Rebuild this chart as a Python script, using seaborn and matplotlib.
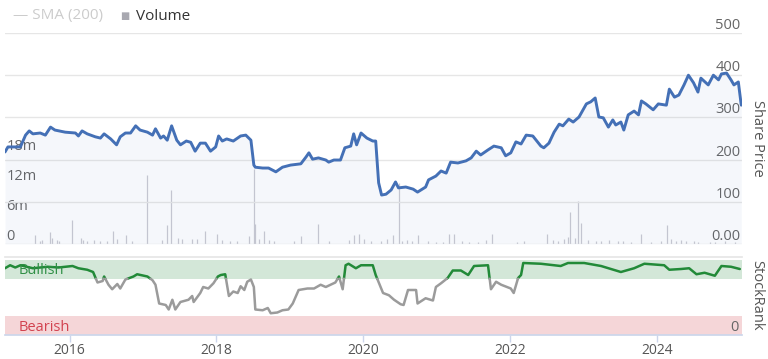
import numpy as np
import pandas as pd
import seaborn as sns
import matplotlib.pyplot as plt
import matplotlib.transforms as mtransforms

# share price (decimal year, price)
price_years = [2015.12, 2015.16, 2015.33, 2015.40, 2015.45, 2015.50, 2015.60, 2015.67,
               2015.74, 2015.80, 2015.94, 2016.08, 2016.12, 2016.17, 2016.24, 2016.35,
               2016.42, 2016.47, 2016.56, 2016.64, 2016.69, 2016.76, 2016.83, 2016.90,
               2016.96, 2017.06, 2017.13, 2017.17, 2017.24, 2017.28, 2017.33, 2017.39,
               2017.46, 2017.51, 2017.59, 2017.65, 2017.71, 2017.78, 2017.85, 2017.92,
               2017.99, 2018.03, 2018.08, 2018.14, 2018.23, 2018.33, 2018.40, 2018.47,
               2018.51, 2018.53, 2018.63, 2018.71, 2018.81, 2018.90, 2019.01, 2019.15,
               2019.22, 2019.26, 2019.31, 2019.39, 2019.49, 2019.53, 2019.60, 2019.69,
               2019.75, 2019.83, 2019.87, 2019.91, 2019.97, 2020.05, 2020.13, 2020.17,
               2020.21, 2020.25, 2020.31, 2020.38, 2020.44, 2020.48, 2020.58, 2020.68,
               2020.74, 2020.85, 2020.89, 2020.99, 2021.06, 2021.13, 2021.19, 2021.29,
               2021.40, 2021.47, 2021.54, 2021.60, 2021.70, 2021.78, 2021.88, 2021.94,
               2022.01, 2022.08, 2022.15, 2022.22, 2022.31, 2022.42, 2022.46, 2022.53,
               2022.60, 2022.67, 2022.72, 2022.80, 2022.86, 2022.94, 2023.04, 2023.10,
               2023.16, 2023.21, 2023.27, 2023.34, 2023.40, 2023.44, 2023.51, 2023.55,
               2023.61, 2023.69, 2023.75, 2023.79, 2023.85, 2023.95, 2024.02, 2024.13,
               2024.17, 2024.24, 2024.30, 2024.37, 2024.43, 2024.50, 2024.56, 2024.60,
               2024.70, 2024.77, 2024.84, 2024.88, 2024.95, 2025.01, 2025.05, 2025.11,
               2025.15]
price_values = [218, 230, 230, 258, 268, 261, 263, 258,
                277, 270, 265, 263, 256, 268, 261, 254,
                251, 261, 249, 235, 254, 263, 263, 280,
                270, 265, 258, 273, 251, 256, 246, 280,
                246, 235, 244, 241, 220, 239, 239, 220,
                230, 256, 244, 249, 244, 256, 258, 246,
                187, 182, 180, 180, 171, 182, 187, 190,
                206, 216, 201, 204, 199, 194, 199, 199,
                228, 232, 261, 235, 263, 251, 244, 244,
                145, 116, 118, 128, 147, 133, 135, 130,
                123, 135, 152, 161, 173, 168, 194, 192,
                197, 204, 220, 211, 223, 232, 228, 209,
                216, 242, 237, 258, 256, 232, 228, 239,
                265, 284, 280, 296, 289, 301, 332, 337,
                346, 301, 299, 277, 294, 282, 289, 270,
                306, 315, 306, 339, 332, 318, 332, 329,
                367, 348, 353, 377, 400, 382, 360, 393,
                377, 400, 389, 403, 405, 389, 377, 384,
                329]

# volume in millions
volume_years = [2015.53, 2015.59, 2015.62, 2015.73, 2015.76, 2015.83, 2015.86, 2016.03,
                2016.15, 2016.18, 2016.24, 2016.33, 2016.42, 2016.51, 2016.59, 2016.65,
                2016.77, 2016.85, 2017.06, 2017.26, 2017.33, 2017.38, 2017.47, 2017.53,
                2017.67, 2017.74, 2017.84, 2018.01, 2018.08, 2018.19, 2018.28, 2018.44,
                2018.51, 2018.53, 2018.58, 2018.65, 2018.71, 2018.78, 2019.06, 2019.15,
                2019.38, 2019.53, 2019.81, 2019.87, 2019.94, 2020.01, 2020.10, 2020.24,
                2020.33, 2020.40, 2020.49, 2020.53, 2020.60, 2020.67, 2020.74, 2020.88,
                2020.99, 2021.08, 2021.17, 2021.23, 2021.35, 2021.44, 2021.56, 2021.67,
                2021.76, 2022.10, 2022.19, 2022.51, 2022.58, 2022.65, 2022.74, 2022.79,
                2022.82, 2022.88, 2022.92, 2022.97, 2023.06, 2023.17, 2023.24, 2023.35,
                2023.47, 2023.54, 2023.65, 2023.78, 2023.92, 2024.06, 2024.14, 2024.19,
                2024.26, 2024.33, 2024.40, 2024.51, 2024.56, 2024.72, 2024.79, 2024.93,
                2025.06]
volume_millions = [1.8, 0.7, 0.8, 2.4, 1.3, 0.8, 0.7, 4.9,
                   1.3, 0.8, 0.7, 0.8, 0.6, 0.7, 2.7, 1.1,
                   1.8, 0.7, 13.9, 0.8, 3.8, 10.8, 1.3, 1.0,
                   1.1, 1.0, 2.7, 2.0, 0.8, 0.7, 0.6, 1.7,
                   15.1, 4.1, 1.1, 2.7, 0.8, 0.6, 0.7, 1.7,
                   4.1, 0.6, 0.8, 1.8, 2.0, 1.0, 0.7, 0.7,
                   1.0, 1.8, 12.2, 0.7, 0.8, 0.6, 1.8, 0.6,
                   0.4, 0.4, 2.1, 2.1, 0.6, 0.4, 0.4, 0.8,
                   2.1, 0.4, 0.7, 2.1, 0.8, 0.7, 1.0, 1.4,
                   6.4, 1.3, 8.7, 4.2, 0.8, 0.6, 0.6, 0.8,
                   0.7, 0.6, 0.4, 2.1, 0.4, 0.6, 3.8, 1.1,
                   0.7, 0.8, 0.7, 0.7, 0.4, 0.4, 0.4, 0.6,
                   0.4]

# StockRank
rank_years = [2015.12, 2015.19, 2015.26, 2015.33, 2015.50, 2015.70, 2015.85, 2016.04,
              2016.12, 2016.24, 2016.32, 2016.38, 2016.45, 2016.47, 2016.53, 2016.58,
              2016.65, 2016.69, 2016.76, 2016.87, 2016.92, 2017.06, 2017.13, 2017.17,
              2017.22, 2017.31, 2017.35, 2017.40, 2017.44, 2017.51, 2017.62, 2017.67,
              2017.69, 2017.78, 2017.82, 2017.89, 2017.96, 2018.02, 2018.06, 2018.12,
              2018.17, 2018.23, 2018.29, 2018.33, 2018.38, 2018.42, 2018.47, 2018.51,
              2018.53, 2018.63, 2018.70, 2018.74, 2018.83, 2018.90, 2018.98, 2019.04,
              2019.12, 2019.24, 2019.33, 2019.42, 2019.49, 2019.62, 2019.67, 2019.72,
              2019.76, 2019.80, 2019.90, 2019.97, 2020.13, 2020.17, 2020.27, 2020.35,
              2020.42, 2020.51, 2020.55, 2020.61, 2020.72, 2020.74, 2020.85, 2020.95,
              2020.99, 2021.06, 2021.15, 2021.22, 2021.33, 2021.43, 2021.51, 2021.70,
              2021.74, 2021.81, 2021.88, 2022.01, 2022.05, 2022.11, 2022.15, 2022.18,
              2022.42, 2022.69, 2022.79, 2023.01, 2023.24, 2023.51, 2023.69, 2023.83,
              2024.10, 2024.17, 2024.33, 2024.44, 2024.54, 2024.65, 2024.79, 2024.88,
              2025.01, 2025.13]
rank_values = [89, 93, 90, 93, 89, 91, 90, 92,
               89, 87, 84, 70, 72, 78, 67, 61,
               68, 62, 74, 78, 81, 78, 73, 67,
               42, 40, 34, 47, 34, 44, 47, 52,
               44, 56, 64, 62, 69, 78, 80, 81,
               52, 58, 56, 65, 60, 71, 74, 64,
               34, 33, 36, 29, 30, 33, 34, 42,
               60, 62, 62, 67, 64, 70, 78, 61,
               93, 95, 89, 93, 93, 80, 56, 53,
               47, 41, 40, 60, 60, 42, 49, 46,
               64, 69, 76, 86, 86, 80, 92, 93,
               61, 71, 67, 62, 56, 76, 80, 96,
               95, 92, 96, 96, 92, 84, 89, 95,
               93, 87, 88, 89, 81, 83, 79, 92,
               91, 88]

year_ticks = [2016, 2018, 2020, 2022, 2024]
price_ticks = [0, 100, 200, 300, 400, 500]
price_tick_labels = ["0.00", "100", "200", "300", "400", "500"]
volume_ticks = [0, 6, 12, 18]
volume_tick_labels = ["0", "6m", "12m", "18m"]
bullish_level = 75
bearish_level = 25


def rank_segments(years, values, level):
    # split the rank line where it crosses into / out of the bullish band
    rows = []
    seg = 0
    state = values[0] >= level
    rows.append((years[0], values[0], seg, state))
    for i in range(1, len(values)):
        s = values[i] >= level
        if s != state:
            t = (level - values[i - 1]) / (values[i] - values[i - 1])
            xc = years[i - 1] + t * (years[i] - years[i - 1])
            rows.append((xc, level, seg, state))
            seg += 1
            state = s
            rows.append((xc, level, seg, state))
        rows.append((years[i], values[i], seg, state))
    df = pd.DataFrame(rows, columns=["year", "rank", "seg", "bull"])
    df["state"] = np.where(df["bull"], "Bullish", "Neutral")
    return df


sns.set_theme(style="white")
plt.rcParams["font.family"] = ["Open Sans", "DejaVu Sans"]

W, H = 768, 359
fig = plt.figure(figsize=(W / 100, H / 100), dpi=100)

ax_vol = fig.add_axes([5 / W, 1 - 244 / H, 737 / W, 211 / H])
ax_price = ax_vol.twinx()
ax_rank = fig.add_axes([5 / W, 1 - 335 / H, 737 / W, 78 / H], sharex=ax_vol)

x_min, x_max = 2015.12, 2025.16

# volume bars
ax_vol.vlines(volume_years, 0, volume_millions, color="#cacad2", linewidth=0.9)
ax_vol.set_ylim(0, 42.2)
ax_vol.set_yticks(volume_ticks)
ax_vol.set_yticklabels(volume_tick_labels)
ax_vol.tick_params(axis="y", length=0, pad=-1, labelsize=10.5, labelcolor="#666666")
for lab in ax_vol.get_yticklabels():
    lab.set_horizontalalignment("left")
    lab.set_verticalalignment("bottom")
ax_vol.set_xlim(x_min, x_max)
for s in ax_vol.spines.values():
    s.set_visible(False)

# price
price_df = pd.DataFrame({"year": price_years, "price": price_values})
ax_price.fill_between(price_df["year"], price_df["price"], color="#4a72b8", alpha=0.05, linewidth=0)
sns.lineplot(data=price_df, x="year", y="price", ax=ax_price, color="#4470b6", linewidth=2.1)
ax_price.set_ylim(0, 500)
ax_price.set_yticks(price_ticks)
ax_price.set_yticklabels(price_tick_labels)
ax_price.tick_params(axis="y", length=0, pad=-1, labelsize=10.5, labelcolor="#666666")
for lab in ax_price.get_yticklabels():
    lab.set_horizontalalignment("right")
    lab.set_verticalalignment("bottom")
ax_price.grid(axis="y", color="#e6e6e6", linewidth=1)
ax_price.set_axisbelow(True)
ax_price.set_xlabel("")
ax_price.set_ylabel("")
for s in ax_price.spines.values():
    s.set_visible(False)
ax_vol.tick_params(axis="x", bottom=False, labelbottom=False)
ax_price.tick_params(axis="x", bottom=False, labelbottom=False)

# stockrank panel
ax_rank.axhspan(bullish_level, 100, color="#d3e7d8", linewidth=0)
ax_rank.axhspan(0, bearish_level, color="#f5d6d8", linewidth=0)
rank_df = rank_segments(rank_years, rank_values, bullish_level)
sns.lineplot(data=rank_df, x="year", y="rank", hue="state", units="seg", estimator=None,
             sort=False, palette={"Bullish": "#228a38", "Neutral": "#9b9b9b"},
             linewidth=1.8, legend=False, ax=ax_rank)
ax_rank.set_ylim(0, 104)
ax_rank.set_xlim(x_min, x_max)
ax_rank.set_yticks([])
ax_rank.set_xticks(year_ticks)
ax_rank.set_xticklabels([str(y) for y in year_ticks])
ax_rank.tick_params(axis="x", bottom=True, direction="out", length=5, width=1,
                    color="#ccd6eb", pad=1, labelsize=10, labelcolor="#555555")
ax_rank.set_xlabel("")
ax_rank.set_ylabel("")
for name, s in ax_rank.spines.items():
    s.set_visible(name in ("top", "bottom"))
ax_rank.spines["top"].set_color("#e6e6e6")
ax_rank.spines["bottom"].set_color("#ccd6eb")

blend = mtransforms.blended_transform_factory(ax_rank.transAxes, ax_rank.transData)
ax_rank.text(0.018, 86, "Bullish", transform=blend, color="#2f8f45", fontsize=10.5, va="center")
ax_rank.text(0.018, 10, "Bearish", transform=blend, color="#d2424f", fontsize=10.5, va="center")
ax_rank.text(0.996, 10, "0", transform=blend, color="#666666", fontsize=10.5, va="center", ha="right")

# axis titles
fig.text(757 / W, 1 - 138 / H, "Share Price", rotation=270, ha="center", va="center",
         fontsize=10.5, color="#555555")
fig.text(757 / W, 1 - 295 / H, "StockRank", rotation=270, ha="center", va="center",
         fontsize=10.5, color="#555555")

# legend
fig.text(13 / W, 1 - 16 / H, "— SMA (200)", ha="left", va="center", fontsize=11, color="#cccccc")
fig.text(120 / W, 1 - 16 / H, "■", ha="left", va="center", fontsize=7, color="#a8a8b0")
fig.text(136 / W, 1 - 16 / H, "Volume", ha="left", va="center", fontsize=11, color="#333333")

fig.savefig("out.png", dpi=100)
